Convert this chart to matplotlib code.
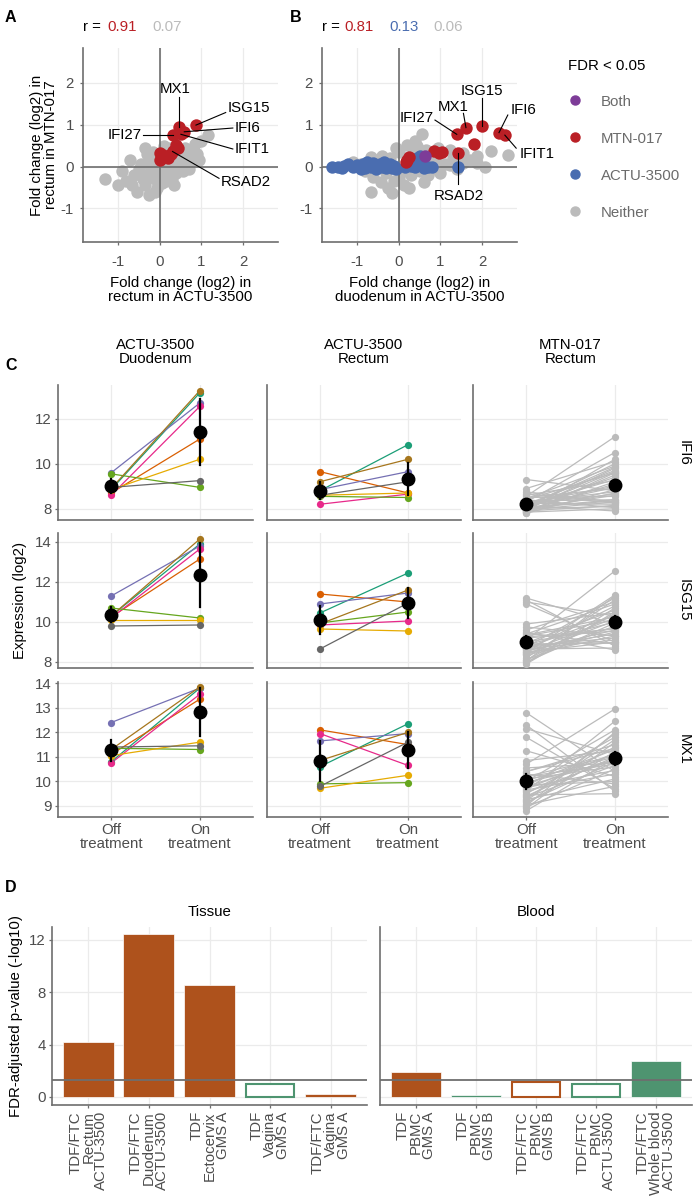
import numpy as np
import matplotlib.pyplot as plt
from matplotlib.lines import Line2D

FS = 10.8
plt.rcParams['font.family'] = ['Liberation Sans', 'DejaVu Sans']
plt.rcParams['font.size'] = FS

W, H = 693, 1202

RED = '#BA1F25'
BLUE = '#4A6DB0'
PURPLE = '#7D3C98'
GREY = '#BBBBBB'
AXC = '#6E6E6E'
GRID = '#EBEBEB'
TICKC = '#4D4D4D'
ORANGE = '#AE521C'
GREEN = '#4E9470'
DARK2 = ['#1B9E77', '#D95F02', '#7570B3', '#E7298A', '#66A61E', '#E6AB02', '#A6761D', '#666666']

# ---------------- panel A : rectum ACTU-3500 vs rectum MTN-017 ----------------
a_grey_x = [-1.3, -1.0, -0.8, -0.55, -0.25, -0.35, -0.6, -0.7, -0.45, -0.35, -0.3, -0.2, -0.15, -0.1,
            -0.05, 0.0, 0.05, 0.1, 0.15, 0.2, 0.25, 0.3, 0.35, 0.4, 0.45, 0.5, 0.55, 0.6, 0.65, 0.7,
            0.75, 0.8, 0.85, 0.9, 1.0, 1.15, 0.6, 0.4, 0.2, 0.1, -0.1, -0.2, -0.3, -0.4, -0.5, 0.0,
            0.05, 0.15, 0.3, -0.15, 0.25, 0.45, -0.05, 0.7, 0.55, -0.25, 0.35, -0.65, 0.95, 0.1, -0.1, -0.9]
a_grey_y = [-0.3, -0.45, -0.35, -0.6, -0.68, -0.45, -0.2, 0.15, 0.05, 0.45, 0.3, 0.2, -0.1, -0.3,
            -0.5, -0.2, -0.4, -0.1, 0.05, -0.25, 0.1, -0.05, 0.15, -0.15, 0.05, 0.2, 0.35, 0.1, 0.25, 0.05,
            0.15, 0.4, 0.55, 0.3, 0.6, 0.75, 0.45, 0.3, 0.35, 0.2, 0.1, -0.05, -0.2, -0.3, -0.05, 0.05,
            -0.05, -0.35, -0.3, 0.35, 0.45, 0.4, 0.25, -0.05, -0.1, 0.05, -0.45, -0.45, 0.15, 0.5, -0.6, -0.1]
a_red_x = [0.47, 0.87, 0.59, 0.51, 0.31, 0.31, 0.39, 0.43, 0.27, 0.0, 0.07, 0.15, 0.0, 0.2]
a_red_y = [0.95, 0.99, 0.83, 0.77, 0.75, 0.36, 0.52, 0.44, 0.3, 0.32, 0.28, 0.24, 0.16, 0.2]
# gene label: (point, line start, text position, alignment)
a_labels = [('MX1', (0.47, 0.95), (0.47, 1.67), (0.37, 1.84), 'center'),
            ('ISG15', (0.87, 0.99), (1.58, 1.29), (1.62, 1.39), 'left'),
            ('IFI6', (0.59, 0.83), (1.75, 0.92), (1.79, 0.93), 'left'),
            ('IFIT1', (0.51, 0.77), (1.75, 0.42), (1.80, 0.41), 'left'),
            ('IFI27', (0.31, 0.75), (-0.39, 0.75), (-0.42, 0.75), 'right'),
            ('RSAD2', (0.31, 0.36), (1.42, -0.28), (1.46, -0.36), 'left')]

# ---------------- panel B : duodenum ACTU-3500 vs rectum MTN-017 ----------------
b_grey_x = [-0.65, -0.15, -0.42, 0.13, 0.61, 0.3, 0.5, -0.3, -0.6, -0.8, -0.5, -0.65, -0.4, -0.2, 0.0,
            0.21, 0.45, 0.57, 0.35, 0.55, 0.75, 0.9, 1.1, 1.24, 1.24, 1.55, 1.55, 1.87, 2.06, 1.87,
            2.22, 2.61, 1.4, 1.7, 0.8, 0.95, 0.1, -0.1, 0.25, -0.25, 0.7, -0.9, -1.1, 0.4, 0.0, 0.2,
            0.65, 1.0, -0.05, 1.3]
b_grey_y = [-0.6, -0.63, -0.36, -0.44, -0.36, -0.2, -0.1, -0.15, -0.25, -0.1, 0.15, 0.24, 0.25, 0.2, 0.35,
            0.52, 0.48, 0.77, 0.3, 0.1, 0.25, 0.15, 0.05, 0.04, 0.4, 0.32, 0.08, 0.08, 0.0, 0.25,
            0.38, 0.28, -0.05, 0.15, -0.05, 0.45, -0.1, -0.35, -0.5, -0.5, -0.2, 0.05, 0.1, 0.6, -0.25, 0.05,
            0.4, -0.15, 0.45, 0.2]
b_blue_x = [-1.6, -1.45, -1.3, -1.2, -1.1, -1.0, -0.95, -0.85, -0.8, -0.7, -0.65, -0.6, -0.5, -0.45,
            -0.4, -0.35, -0.3, -0.25, -0.2, -0.15, -0.1, -0.05, -1.35, -0.55, 0.15, 0.3, 0.4, 0.45,
            0.55, 0.6, 0.7, 0.8, 0.5, 1.43, -0.9, -0.75]
b_blue_y = [0.0, 0.0, 0.02, 0.05, -0.02, 0.03, 0.0, 0.07, -0.03, 0.04, 0.0, 0.08, -0.02, 0.05,
            0.0, 0.1, -0.04, 0.03, 0.06, -0.03, 0.02, -0.06, -0.04, -0.06, -0.02, 0.02, -0.02, 0.2,
            0.05, -0.03, 0.0, -0.02, 0.25, 0.0, -0.05, 0.1]
b_red_x = [1.43, 1.39, 1.61, 2.0, 1.8, 2.4, 2.54, 0.84, 1.04, 0.96, 0.21, 0.25, 0.17]
b_red_y = [0.32, 0.77, 0.93, 0.98, 0.54, 0.81, 0.75, 0.38, 0.34, 0.32, 0.16, 0.24, 0.12]
b_purple_x = [0.63]
b_purple_y = [0.26]
b_labels = [('ISG15', (2.0, 0.98), (2.0, 1.63), (2.0, 1.81), 'center'),
            ('MX1', (1.61, 0.93), (1.55, 1.27), (1.31, 1.41), 'center'),
            ('IFI27', (1.39, 0.77), (0.87, 1.11), (0.84, 1.15), 'right'),
            ('IFI6', (2.40, 0.81), (2.61, 1.23), (2.68, 1.35), 'left'),
            ('IFIT1', (2.54, 0.75), (2.81, 0.44), (2.90, 0.31), 'left'),
            ('RSAD2', (1.43, 0.32), (1.43, -0.42), (1.43, -0.71), 'center')]

# ---------------- panel C : expression per participant ----------------
genes = ['IFI6', 'ISG15', 'MX1']
columns = ['ACTU-3500\nDuodenum', 'ACTU-3500\nRectum', 'MTN-017\nRectum']
# ACTU-3500 participants (Dark2 order: teal, orange, purple, pink, green, yellow, brown, grey)
duo_ifi6_off = [8.85, 8.7, 9.6, 8.6, 9.55, 8.85, 8.9, 8.95]
duo_ifi6_on = [13.15, 11.1, 12.7, 12.55, 8.95, 10.2, 13.25, 9.25]
rec_ifi6_off = [8.8, 9.65, 8.85, 8.2, 8.55, 8.6, 9.2, 8.6]
rec_ifi6_on = [10.85, 8.7, 9.65, 8.65, 8.5, 8.7, 10.2, 9.2]
duo_isg15_off = [10.3, 10.25, 11.3, 10.2, 10.7, 10.1, 10.3, 9.8]
duo_isg15_on = [13.9, 13.15, 13.8, 13.65, 10.2, 10.1, 14.15, 9.85]
rec_isg15_off = [10.45, 11.4, 10.9, 9.85, 9.95, 9.65, 9.9, 8.65]
rec_isg15_on = [12.45, 11.0, 11.45, 10.05, 10.5, 9.55, 11.6, 10.95]
duo_mx1_off = [10.8, 11.1, 12.4, 10.75, 11.35, 11.05, 11.3, 11.4]
duo_mx1_on = [13.8, 13.35, 13.8, 13.55, 11.3, 11.6, 13.85, 11.45]
rec_mx1_off = [10.6, 12.1, 11.65, 11.95, 9.9, 9.72, 10.85, 9.8]
rec_mx1_on = [12.35, 11.5, 11.95, 10.65, 9.95, 10.25, 12.0, 11.6]
# MTN-017 participants
mtn_ifi6_off = [9.3, 8.9, 8.75, 8.6, 8.55, 8.5, 8.45, 8.4, 8.4, 8.35, 8.3, 8.3, 8.25, 8.25, 8.2, 8.2,
                8.15, 8.15, 8.1, 8.1, 8.1, 8.05, 8.05, 8.0, 8.0, 8.0, 7.95, 7.95, 7.95, 7.9, 7.9, 7.9,
                7.85, 7.85, 7.85, 7.8, 7.8, 8.65, 8.5, 8.05]
mtn_ifi6_on = [8.8, 10.1, 8.3, 9.25, 11.2, 8.55, 9.9, 8.05, 9.6, 8.4, 10.5, 8.75, 9.0, 8.2, 9.7, 8.65,
               9.3, 7.9, 9.85, 8.95, 10.0, 8.35, 9.4, 8.1, 9.65, 8.6, 9.1, 8.3, 9.8, 8.15, 10.2, 8.7,
               9.5, 8.0, 9.2, 8.85, 9.6, 8.25, 8.9, 8.4]
mtn_isg15_off = [11.2, 11.1, 11.0, 10.9, 9.9, 9.75, 9.6, 9.5, 9.3, 9.2, 9.1, 9.0, 8.95, 8.9, 8.85, 8.8,
                 8.75, 8.7, 8.7, 8.65, 8.6, 8.55, 8.5, 8.5, 8.45, 8.4, 8.4, 8.35, 9.4, 9.45, 9.35, 9.25,
                 8.2, 8.65, 8.1, 8.1, 8.05, 8.0, 7.95, 7.9]
mtn_isg15_on = [9.9, 8.8, 10.3, 9.0, 10.45, 9.3, 11.0, 8.6, 10.1, 9.55, 12.55, 9.7, 10.6, 8.95, 10.0, 9.2,
                11.2, 9.4, 10.35, 8.7, 10.8, 9.6, 10.2, 9.0, 11.35, 9.5, 10.05, 9.3, 10.9, 8.9, 10.25, 9.65,
                11.1, 9.1, 10.4, 9.8, 11.3, 9.95, 10.7, 10.5]
mtn_mx1_off = [12.8, 12.3, 12.15, 11.8, 11.25, 10.85, 10.7, 10.55, 10.4, 10.3, 10.2, 10.1, 10.0, 9.95,
               9.9, 9.85, 9.8, 9.75, 9.7, 9.65, 9.6, 9.55, 9.5, 9.45, 9.4, 9.35, 9.3, 9.25, 9.2, 9.15,
               9.1, 9.05, 9.0, 8.95, 8.9, 8.8, 10.4, 10.2, 9.8, 10.05]
mtn_mx1_on = [10.4, 9.6, 11.1, 9.7, 10.2, 11.25, 12.95, 10.75, 11.5, 9.9, 11.05, 10.6, 12.1, 10.85,
              11.3, 10.0, 11.8, 10.45, 11.15, 10.3, 12.45, 10.9, 11.4, 9.5, 11.0, 10.65, 11.7, 10.1,
              11.95, 10.8, 11.2, 9.8, 12.0, 10.5, 11.6, 10.95, 11.35, 10.7, 10.9, 11.0]

expr = {
    ('IFI6', 0): (duo_ifi6_off, duo_ifi6_on), ('IFI6', 1): (rec_ifi6_off, rec_ifi6_on), ('IFI6', 2): (mtn_ifi6_off, mtn_ifi6_on),
    ('ISG15', 0): (duo_isg15_off, duo_isg15_on), ('ISG15', 1): (rec_isg15_off, rec_isg15_on), ('ISG15', 2): (mtn_isg15_off, mtn_isg15_on),
    ('MX1', 0): (duo_mx1_off, duo_mx1_on), ('MX1', 1): (rec_mx1_off, rec_mx1_on), ('MX1', 2): (mtn_mx1_off, mtn_mx1_on),
}
row_ylims = {'IFI6': (7.5, 13.5), 'ISG15': (7.7, 14.45), 'MX1': (8.55, 14.05)}
row_ticks = {'IFI6': [8, 10, 12], 'ISG15': [8, 10, 12, 14], 'MX1': [9, 10, 11, 12, 13, 14]}

# ---------------- panel D : enrichment ----------------
tissue_labels = ['TDF/FTC\nRectum\nACTU-3500', 'TDF/FTC\nDuodenum\nACTU-3500', 'TDF\nEctocervix\nGMS A',
                 'TDF\nVagina\nGMS A', 'TDF/FTC\nVagina\nGMS A']
tissue_vals = [4.2, 12.45, 8.55, 0.95, 0.25]
tissue_up = [True, True, True, False, True]
tissue_filled = [True, True, True, False, True]
blood_labels = ['TDF\nPBMC\nGMS A', 'TDF\nPBMC\nGMS B', 'TDF/FTC\nPBMC\nGMS B', 'TDF/FTC\nPBMC\nACTU-3500',
                'TDF/FTC\nWhole blood\nACTU-3500']
blood_vals = [1.9, 0.15, 1.15, 0.95, 2.75]
blood_up = [True, False, True, False, False]
blood_filled = [True, True, False, False, True]


def box(l, t, r, b):
    return [l / W, 1 - b / H, (r - l) / W, (b - t) / H]


def style(ax, pad=2):
    for s in ['top', 'right']:
        ax.spines[s].set_visible(False)
    for s in ['left', 'bottom']:
        ax.spines[s].set_color(AXC)
        ax.spines[s].set_linewidth(1.2)
    ax.grid(True, color=GRID, lw=0.9)
    ax.set_axisbelow(True)
    ax.tick_params(colors=AXC, labelcolor=TICKC, length=2.5, width=0.9, labelsize=FS, pad=pad)


def tcrit(n):
    z = 1.959964
    d = n - 1
    return z + (z ** 3 + z) / (4 * d) + (5 * z ** 5 + 16 * z ** 3 + 3 * z) / (96 * d ** 2)


fig = plt.figure(figsize=(W / 100, H / 100), dpi=100)

# ---- A and B scatter
ax_a = fig.add_axes(box(83, 48, 278, 242))
ax_b = fig.add_axes(box(322, 48, 517, 242))
S = 80
for ax in (ax_a, ax_b):
    style(ax, pad=4)
    ax.tick_params(axis='x', pad=7)
    ax.set_xlim(-1.83, 2.83)
    ax.set_ylim(-1.8, 2.83)
    ax.set_xticks([-1, 0, 1, 2])
    ax.set_yticks([-1, 0, 1, 2])
    ax.set_xticklabels(['-1', '0', '1', '2'])
    ax.set_yticklabels(['-1', '0', '1', '2'])
    ax.axhline(0, color=AXC, lw=1.2, zorder=2.5)
    ax.axvline(0, color=AXC, lw=1.2, zorder=2.5)

ax_a.scatter(a_grey_x, a_grey_y, s=S, color=GREY, lw=0, zorder=2)
ax_a.scatter(a_red_x, a_red_y, s=S, color=RED, lw=0, zorder=3)
ax_b.scatter(b_grey_x, b_grey_y, s=S, color=GREY, lw=0, zorder=2)
ax_b.scatter(b_blue_x, b_blue_y, s=S, color=BLUE, lw=0, zorder=3)
ax_b.scatter(b_red_x, b_red_y, s=S, color=RED, lw=0, zorder=3)
ax_b.scatter(b_purple_x, b_purple_y, s=S, color=PURPLE, lw=0, zorder=3)

for ax, labels in ((ax_a, a_labels), (ax_b, b_labels)):
    for name, pt, start, txt, ha in labels:
        ax.plot([start[0], pt[0]], [start[1], pt[1]], color='black', lw=0.8, zorder=4, clip_on=False)
        ax.text(txt[0], txt[1], name, ha=ha, va='center', fontsize=FS, zorder=5, clip_on=False)

ax_a.set_xlabel('Fold change (log2) in\nrectum in ACTU-3500', fontsize=FS, labelpad=5, linespacing=0.95)
ax_a.set_ylabel('Fold change (log2) in\nrectum in MTN-017', fontsize=FS, labelpad=2, linespacing=0.95)
ax_b.set_xlabel('Fold change (log2) in\nduodenum in ACTU-3500', fontsize=FS, labelpad=5, linespacing=0.95)

for x, s, c in ((83, 'r =', 'black'), (107, '0.91', RED), (152, '0.07', GREY),
                (322, 'r =', 'black'), (344, '0.81', RED), (389, '0.13', BLUE), (433, '0.06', GREY)):
    fig.text(x / W, 1 - 27 / H, s, color=c, fontsize=FS, ha='left', va='center')

handles = [Line2D([], [], ls='', marker='o', ms=6.5, color=c) for c in (PURPLE, RED, BLUE, GREY)]
leg = fig.legend(handles, ['Both', 'MTN-017', 'ACTU-3500', 'Neither'], title='FDR < 0.05',
                 loc='upper left', bbox_to_anchor=(560 / W, 1 - 51 / H), frameon=False,
                 labelspacing=1.53, handletextpad=1.2, handlelength=1.0, fontsize=FS,
                 title_fontsize=FS, borderpad=0)
leg._legend_box.align = 'left'
leg._legend_box.sep = 16
for t in leg.get_texts():
    t.set_color('#6B6B6B')

# ---- C paired expression
col_x = [(58, 253), (267, 461), (473, 668)]
row_y = [(385, 520), (533, 668), (682, 817)]
for r, gene in enumerate(genes):
    for c in range(3):
        ax = fig.add_axes(box(col_x[c][0], row_y[r][0], col_x[c][1], row_y[r][1]))
        style(ax)
        off, on = expr[(gene, c)]
        cols = DARK2 if c < 2 else [GREY] * len(off)
        for i in range(len(off)):
            ax.plot([1, 2], [off[i], on[i]], color=cols[i], lw=0.9, zorder=2)
        for i in range(len(off)):
            ax.plot([1, 2], [off[i], on[i]], ls='', marker='o', ms=5.2, color=cols[i], mew=0, zorder=3)
        for xpos, vals in ((1, off), (2, on)):
            v = np.array(vals)
            m = v.mean()
            ci = tcrit(len(v)) * v.std(ddof=1) / np.sqrt(len(v))
            ax.plot([xpos, xpos], [m - ci, m + ci], color='black', lw=1.6, zorder=4)
            ax.plot([xpos], [m], ls='', marker='o', ms=9, color='black', zorder=5)
        ax.set_xlim(0.4, 2.6)
        ax.set_ylim(*row_ylims[gene])
        ax.set_yticks(row_ticks[gene])
        ax.set_xticks([1, 2])
        if c == 0:
            ax.set_yticklabels([str(t) for t in row_ticks[gene]])
        else:
            ax.set_yticklabels([])
            ax.tick_params(axis='y', length=0)
        if r == 2:
            ax.set_xticklabels(['Off\ntreatment', 'On\ntreatment'], linespacing=0.95)
        else:
            ax.set_xticklabels([])
            ax.tick_params(axis='x', length=0)
        if r == 0:
            ax.set_title(columns[c], fontsize=FS, pad=16, linespacing=0.95)
        if c == 0 and r == 1:
            ax.set_ylabel('Expression (log2)', fontsize=FS, labelpad=6)
    fig.text(684 / W, 1 - (row_y[r][0] + row_y[r][1]) / 2 / H, gene, rotation=-90,
             ha='center', va='center', fontsize=FS)

# ---- D bar chart
ax_t = fig.add_axes(box(52, 927, 367, 1105))
ax_bl = fig.add_axes(box(380, 927, 692, 1105))
for ax, labels, vals, up, filled, title in ((ax_t, tissue_labels, tissue_vals, tissue_up, tissue_filled, 'Tissue'),
                                            (ax_bl, blood_labels, blood_vals, blood_up, blood_filled, 'Blood')):
    style(ax)
    x = np.arange(1, len(vals) + 1)
    for xi, v, u, f in zip(x, vals, up, filled):
        col = ORANGE if u else GREEN
        if f:
            ax.bar(xi, v, 0.84, color=col, edgecolor='white', lw=0.5, zorder=2)
        else:
            ax.bar(xi, v, 0.8, facecolor='white', edgecolor=col, lw=1.5, zorder=2)
    ax.axhline(-np.log10(0.05), color=AXC, lw=1.3, zorder=3)
    ax.set_xlim(0.4, 5.6)
    ax.set_ylim(-0.62, 12.98)
    ax.set_yticks([0, 4, 8, 12])
    ax.set_xticks(x)
    ax.set_xticklabels(labels, rotation=90, ha='center', va='top', multialignment='right',
                       linespacing=0.92)
    ax.set_title(title, fontsize=FS, pad=8)
ax_t.set_ylabel('FDR-adjusted p-value (-log10)', fontsize=FS, labelpad=4)
ax_bl.set_yticklabels([])
ax_bl.tick_params(axis='y', length=0)

for x, y, s in ((5, 18, 'A'), (290, 18, 'B'), (5, 366, 'C'), (5, 888, 'D')):
    fig.text(x / W, 1 - y / H, s, fontsize=11.5, fontweight='bold', ha='left', va='center')

fig.savefig('out.png', dpi=100, facecolor='white')
